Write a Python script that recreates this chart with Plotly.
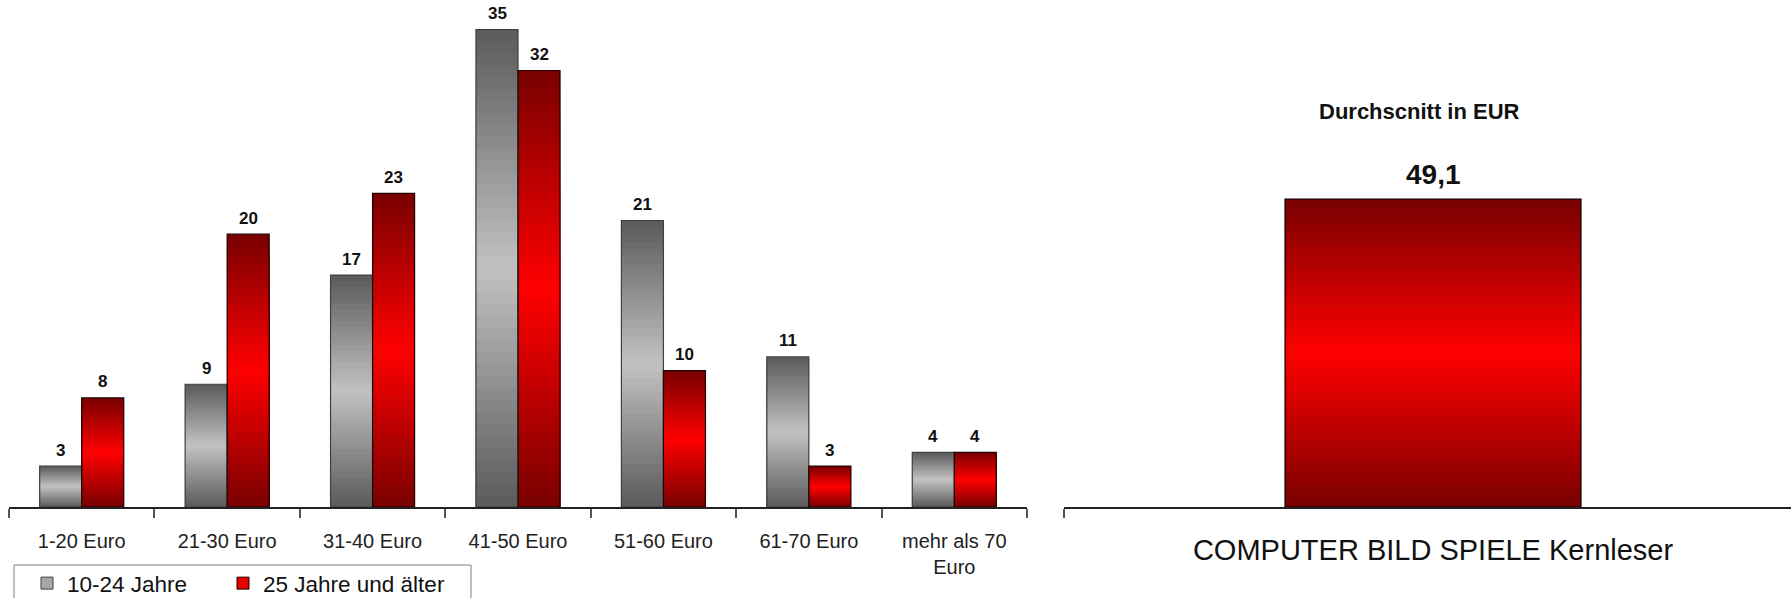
import plotly.graph_objects as go

# ---------------- data ----------------
categories = ["1-20 Euro", "21-30 Euro", "31-40 Euro", "41-50 Euro",
              "51-60 Euro", "61-70 Euro", "mehr als 70<br>Euro"]
series_names = ["10-24 Jahre", "25 Jahre und älter"]
young_values = [3, 9, 17, 35, 21, 11, 4]
older_values = [8, 20, 23, 32, 10, 3, 4]

avg_category = ["COMPUTER BILD SPIELE Kernleser"]
avg_values = [49.1]
avg_labels = ["49,1"]
avg_title = "Durchscnitt in EUR"

# ---------------- styling ----------------
W, H = 1791, 598
FONT = "Arial, Liberation Sans, Arimo, sans-serif"
N = 40  # gradient bands per bar

GREY_DARK, GREY_LIGHT = (90, 90, 90), (194, 194, 194)
RED_DARK, RED_LIGHT = (120, 0, 0), (255, 0, 0)


def band_color(dark, light, j):
    t = (j + 0.5) / N
    f = 1 - abs(2 * t - 1)
    c = [round(d + (l - d) * f) for d, l in zip(dark, light)]
    return f"rgb({c[0]},{c[1]},{c[2]})"


def px_x(p):
    return p / W


def px_y(p):
    return 1 - p / H


fig = go.Figure()


def add_gradient_bars(xs, vals, dark, light, group, xaxis, yaxis, width=None):
    for j in range(N - 1, -1, -1):
        fig.add_trace(go.Bar(
            x=xs, y=[v * (j + 1) / N for v in vals],
            marker=dict(color=band_color(dark, light, j), line=dict(width=0)),
            offsetgroup=group, xaxis=xaxis, yaxis=yaxis, width=width,
            showlegend=False, hoverinfo="skip"))


def add_outline(xs, vals, color, group, xaxis, yaxis, width=None):
    fig.add_trace(go.Bar(
        x=xs, y=vals, marker=dict(color="rgba(0,0,0,0)", line=dict(color=color, width=1.2)),
        offsetgroup=group, xaxis=xaxis, yaxis=yaxis, width=width,
        showlegend=False, hoverinfo="skip"))


# left chart
add_gradient_bars(categories, young_values, GREY_DARK, GREY_LIGHT, "a", "x", "y")
add_gradient_bars(categories, older_values, RED_DARK, RED_LIGHT, "b", "x", "y")
add_outline(categories, young_values, "#404040", "a", "x", "y")
add_outline(categories, older_values, "#200000", "b", "x", "y")

# legend entries (one legend each, so they can be placed like the original)
fig.add_trace(go.Bar(x=[None], y=[None], name=series_names[0], offsetgroup="a",
                     marker=dict(color="#a8a8a8", line=dict(color="#404040", width=1)),
                     xaxis="x", yaxis="y", legend="legend"))
fig.add_trace(go.Bar(x=[None], y=[None], name=series_names[1], offsetgroup="b",
                     marker=dict(color="#e80000", line=dict(color="#200000", width=1)),
                     xaxis="x", yaxis="y", legend="legend2"))

# right chart
BAR_W2 = 0.401
add_gradient_bars(avg_category, avg_values, RED_DARK, RED_LIGHT, "c", "x2", "y2", width=BAR_W2)
add_outline(avg_category, avg_values, "#000000", "c", "x2", "y2", width=BAR_W2)

# value labels
annotations = []
for cat, v in zip(categories, young_values):
    annotations.append(dict(x=cat, y=v, xref="x", yref="y", text=str(v), showarrow=False,
                            yanchor="middle", yshift=16, xshift=-21,
                            font=dict(family=FONT, size=17, color="#111", weight="bold")))
for cat, v in zip(categories, older_values):
    annotations.append(dict(x=cat, y=v, xref="x", yref="y", text=str(v), showarrow=False,
                            yanchor="middle", yshift=16, xshift=21,
                            font=dict(family=FONT, size=17, color="#111", weight="bold")))
for cat, v, lab in zip(avg_category, avg_values, avg_labels):
    annotations.append(dict(x=cat, y=v, xref="x2", yref="y2", text=lab, showarrow=False,
                            yanchor="middle", yshift=25,
                            font=dict(family=FONT, size=28, color="#111", weight="bold")))
annotations.append(dict(x=px_x(1419), y=px_y(112), xref="paper", yref="paper", text=avg_title,
                        showarrow=False, xanchor="center", yanchor="middle",
                        font=dict(family=FONT, size=22, color="#111", weight="bold")))

shapes = [
    # legend frame
    dict(type="rect", xref="paper", yref="paper", x0=px_x(14), x1=px_x(471),
         y0=px_y(565), y1=px_y(612), line=dict(color="#808080", width=1),
         fillcolor="rgba(0,0,0,0)", layer="below"),
]

legend_common = dict(orientation="h", yanchor="bottom", y=-7 / H, xanchor="left",
                     bgcolor="rgba(0,0,0,0)", borderwidth=0,
                     font=dict(family=FONT, size=22.5, color="#111"))

base_y = px_y(507)
fig.update_layout(
    width=W, height=H, autosize=False,
    margin=dict(l=0, r=0, t=0, b=0, autoexpand=False),
    paper_bgcolor="white", plot_bgcolor="white",
    barmode="group", bargap=0.422, bargroupgap=0,
    font=dict(family=FONT, size=20, color="#222"),
    xaxis=dict(domain=[px_x(9), px_x(1027)], type="category", showline=True,
               linecolor="#222", linewidth=1.5, ticks="outside", tickson="boundaries",
               ticklen=9, tickwidth=1.5, tickcolor="#555", showgrid=False,
               tickfont=dict(family=FONT, size=20, color="#222"),
               ticklabelstandoff=15, automargin=False, fixedrange=True),
    yaxis=dict(domain=[base_y, 1], range=[0, 507 / 13.64], visible=False, fixedrange=True),
    xaxis2=dict(domain=[px_x(1064), 1], type="category", anchor="y2",
                range=[-0.5, (W - 1064) / 738 - 0.5], showline=True, linecolor="#222",
                linewidth=1.5, ticks="outside", tickson="boundaries", ticklen=9,
                tickwidth=1.5, tickcolor="#555", showgrid=False,
                tickfont=dict(family=FONT, size=29, color="#111"),
                ticklabelstandoff=16, automargin=False, fixedrange=True),
    yaxis2=dict(domain=[base_y, 1], anchor="x2", range=[0, 507 / 6.273], visible=False,
                fixedrange=True),
    legend=dict(x=px_x(27), **legend_common),
    legend2=dict(x=px_x(223), **legend_common),
    annotations=annotations, shapes=shapes,
)

fig.write_html("out.html", config={"displayModeBar": False},
               post_script="document.body.style.margin='0';")
